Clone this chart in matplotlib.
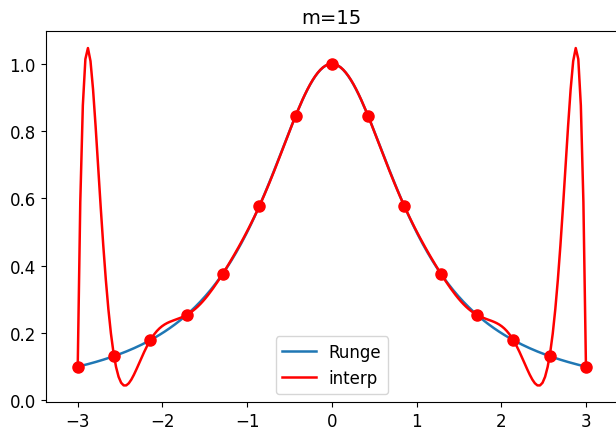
import numpy as np
import matplotlib
matplotlib.use("Agg")
import matplotlib.pyplot as plt

m = 15

# nodes and the values of the Runge function there
x_nodes = [-3.0, -2.5714, -2.1429, -1.7143, -1.2857, -0.8571, -0.4286, 0.0,
           0.4286, 0.8571, 1.2857, 1.7143, 2.1429, 2.5714, 3.0]
y_nodes = [0.1, 0.1314, 0.1788, 0.2539, 0.3769, 0.5765, 0.8448, 1.0,
           0.8448, 0.5765, 0.3769, 0.2539, 0.1788, 0.1314, 0.1]


def runge(x):
    return 1.0 / (1.0 + x**2)


# polynomial of degree m-1 through all the nodes
p = np.polynomial.Polynomial.fit(x_nodes, y_nodes, m - 1)

xx = np.linspace(-3, 3, 200)

plt.rcParams["font.size"] = 12
plt.rcParams["lines.linewidth"] = 1.8

fig = plt.figure(figsize=(6.16, 4.31), dpi=100)
ax = fig.add_axes([0.0742, 0.0643, 0.929, 0.861])

ax.plot(xx, runge(xx), label="Runge")
ax.plot(xx, p(xx), color="red", label="interp")
ax.plot(x_nodes, y_nodes, "o", color="red", markersize=8)

ax.set_xlim(-3.378, 3.378)
ax.set_title("m=15", fontsize=14)
ax.legend(loc="lower center")

fig.savefig("out.png", dpi=100)
